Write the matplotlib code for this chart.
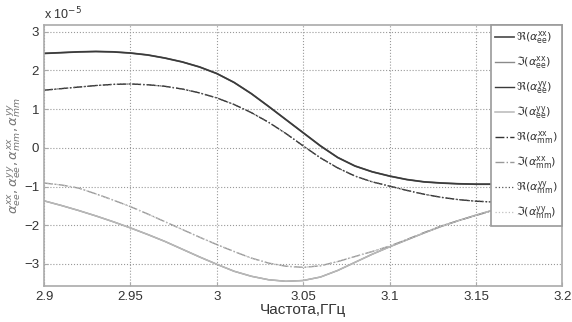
import numpy as np
import matplotlib
matplotlib.use('Agg')
import matplotlib.pyplot as plt

plt.rcParams['font.family'] = ['Liberation Sans', 'DejaVu Sans']
plt.rcParams['mathtext.fontset'] = 'dejavusans'

# частота, ГГц
freq = [2.90, 2.91, 2.92, 2.93, 2.94, 2.95, 2.96, 2.97, 2.98, 2.99,
        3.00, 3.01, 3.02, 3.03, 3.04, 3.05, 3.06, 3.07, 3.08, 3.09,
        3.10, 3.11, 3.12, 3.13, 3.14, 3.15, 3.16, 3.17, 3.18, 3.19, 3.20]

# значения в единицах 1e-5
re_ee_xx = [2.44, 2.46, 2.48, 2.49, 2.48, 2.45, 2.40, 2.32, 2.22, 2.09,
            1.92, 1.69, 1.40, 1.07, 0.73, 0.39, 0.05, -0.25, -0.47, -0.62,
            -0.73, -0.82, -0.88, -0.91, -0.93, -0.94, -0.94, -0.94, -0.94, -0.94, -0.94]
re_ee_yy = re_ee_xx
im_ee_xx = [-1.37, -1.49, -1.62, -1.76, -1.91, -2.07, -2.24, -2.42, -2.62, -2.82,
            -3.01, -3.19, -3.32, -3.41, -3.45, -3.43, -3.34, -3.17, -2.96, -2.75,
            -2.56, -2.38, -2.20, -2.03, -1.88, -1.74, -1.61, -1.50, -1.42, -1.36, -1.32]
im_ee_yy = im_ee_xx
re_mm_xx = [1.49, 1.53, 1.57, 1.61, 1.64, 1.65, 1.63, 1.59, 1.52, 1.42,
            1.29, 1.12, 0.91, 0.66, 0.37, 0.05, -0.26, -0.52, -0.73, -0.88,
            -0.99, -1.10, -1.20, -1.28, -1.34, -1.38, -1.40, -1.41, -1.42, -1.43, -1.43]
re_mm_yy = re_mm_xx
im_mm_xx = [-0.91, -0.96, -1.04, -1.19, -1.35, -1.52, -1.71, -1.91, -2.11, -2.31,
            -2.50, -2.68, -2.85, -2.98, -3.06, -3.09, -3.05, -2.94, -2.81, -2.68,
            -2.54, -2.37, -2.19, -2.02, -1.88, -1.75, -1.62, -1.52, -1.44, -1.38, -1.34]
im_mm_yy = im_mm_xx

labels = [r'$\Re(\alpha_{\mathrm{ee}}^{\mathrm{xx}})$', r'$\Im(\alpha_{\mathrm{ee}}^{\mathrm{xx}})$',
          r'$\Re(\alpha_{\mathrm{ee}}^{\mathrm{yy}})$', r'$\Im(\alpha_{\mathrm{ee}}^{\mathrm{yy}})$',
          r'$\Re(\alpha_{\mathrm{mm}}^{\mathrm{xx}})$', r'$\Im(\alpha_{\mathrm{mm}}^{\mathrm{xx}})$',
          r'$\Re(\alpha_{\mathrm{mm}}^{\mathrm{yy}})$', r'$\Im(\alpha_{\mathrm{mm}}^{\mathrm{yy}})$']

fig = plt.figure(figsize=(5.72, 3.22), dpi=100)
ax = fig.add_axes([0.077, 0.112, 0.906, 0.811])

series = [re_ee_xx, im_ee_xx, re_ee_yy, im_ee_yy, re_mm_xx, im_mm_xx, re_mm_yy, im_mm_yy]
colors = ['#555555', '#8a8a8a', '#3a3a3a', '#b8b8b8', '#333333', '#999999', '#555555', '#c0c0c0']
styles = ['-', '-', '-', '-', '-.', '-.', ':', ':']
widths = [1.3, 1.0, 1.0, 1.1, 1.0, 1.0, 0.9, 0.9]
for s, c, ls, lw, lab in zip(series, colors, styles, widths, labels):
    ax.plot(freq, s, color=c, linestyle=ls, linewidth=lw, label=lab)

ax.set_xlim(2.9, 3.2)
ax.set_ylim(-3.57, 3.18)
ax.set_xticks([2.9, 2.95, 3.0, 3.05, 3.1, 3.15, 3.2])
ax.set_xticklabels(['2.9', '2.95', '3', '3.05', '3.1', '3.15', '3.2'])
ax.set_yticks([-3, -2, -1, 0, 1, 2, 3])
ax.grid(True, linestyle=':', color='#999999', linewidth=0.8)
ax.tick_params(direction='in', length=3, colors='#aaaaaa', labelcolor='#333333', labelsize=9.5)
for sp in ax.spines.values():
    sp.set_color('#aaaaaa')
    sp.set_linewidth(1.2)

ax.set_xlabel('Частота,ГГц', fontsize=11, color='#333333', labelpad=0)
ax.set_ylabel(r'$\alpha_{ee}^{xx},\alpha_{ee}^{yy},\alpha_{mm}^{xx},\alpha_{mm}^{yy}$',
              fontsize=9.5, color='#777777', labelpad=1)
ax.text(0.0, 1.02, r'x 10$^{-5}$', transform=ax.transAxes, fontsize=9, color='#333333')

leg = ax.legend(loc='upper right', borderaxespad=0, fontsize=8, handlelength=1.7,
                handletextpad=0.2, labelspacing=0.75, fancybox=False, framealpha=1,
                borderpad=0.4)
leg.get_frame().set_edgecolor('#999999')
leg.get_frame().set_linewidth(1.2)
for t in leg.get_texts():
    t.set_color('#333333')

fig.savefig('out.png', dpi=100)
